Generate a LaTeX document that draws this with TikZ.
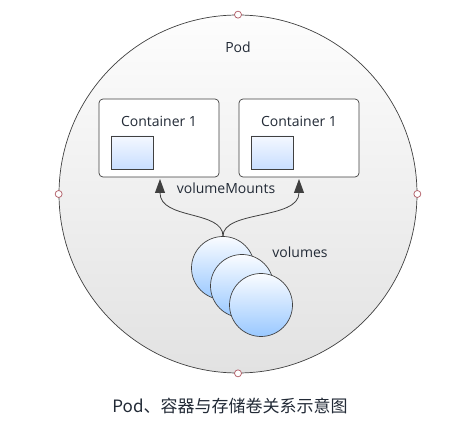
\documentclass[tikz,border=0pt]{standalone}
\usepackage{fontspec}
\setmainfont{Open Sans}
\newfontfamily\cjk{Noto Sans CJK SC}
\usetikzlibrary{arrows.meta}
\definecolor{txt}{HTML}{222A36}
\definecolor{edge}{HTML}{404040}
\definecolor{podtop}{HTML}{FDFDFD}
\definecolor{podbot}{HTML}{E2E2E2}
\definecolor{voltop}{HTML}{FAFCFF}
\definecolor{volbot}{HTML}{99C8FF}
\definecolor{sqtop}{HTML}{F4F8FF}
\definecolor{sqbot}{HTML}{C8DEFF}
\definecolor{handle}{HTML}{B05A64}
\tikzset{
  podcircle/.style={circle, draw=edge, line width=0.7pt, top color=podtop, bottom color=podbot, minimum size=358pt, inner sep=0pt},
  handledot/.style={circle, draw=handle, fill=white, line width=0.7pt, minimum size=7pt, inner sep=0pt},
  contbox/.style={draw=edge, line width=0.7pt, fill=white, rounded corners=4pt, minimum width=120pt, minimum height=78pt, inner sep=0pt},
  smallsq/.style={draw=edge, line width=0.7pt, top color=sqtop, bottom color=sqbot, minimum width=42pt, minimum height=33pt, inner sep=0pt},
  vol/.style={circle, draw=edge, line width=0.7pt, top color=voltop, bottom color=volbot, minimum size=63pt, inner sep=0pt},
  lbl/.style={text=txt, font=\fontsize{14}{16}\selectfont, inner sep=0pt},
  mount/.style={draw=edge, line width=0.8pt, -{Triangle[length=14pt,width=10pt]}},
}
\begin{document}
\begin{tikzpicture}[x=1pt,y=-1pt]
\useasboundingbox (0,0) rectangle (469,430);
\node[podcircle] (pod) at (238,194) {};
\node[handledot] (ht) at (pod.north) {};
\node[handledot] (hb) at (pod.south) {};
\node[handledot] (hl) at (pod.west) {};
\node[handledot] (hr) at (pod.east) {};
\node[lbl] (podl) at (238,47) {Pod};
\node[contbox] (c1) at (159,138) {};
\node[contbox] (c2) at (299,138) {};
\node[lbl] (c1t) at (159,121) {Container 1};
\node[lbl] (c2t) at (299,121) {Container 1};
\node[smallsq] (s1) at (132,152.5) {};
\node[smallsq] (s2) at (272,152.5) {};
\node[vol] (v1) at (223,268) {};
\node[vol] (v2) at (242,286) {};
\node[vol] (v3) at (261,305) {};
\node[lbl] (vl) at (300,252) {volumes};
\node[lbl] (ml) at (226,188) {volumeMounts};
\coordinate (t1) at (160,179);
\coordinate (t2) at (299,179);
\draw[mount] (v1.north) .. controls (223,210) and (160,220) .. (t1);
\draw[mount] (v1.north) .. controls (223,210) and (299,220) .. (t2);
\node[text=txt, font=\cjk\fontsize{17}{20}\selectfont, inner sep=0pt] (cap) at (230,406) {Pod、容器与存储卷关系示意图};
\end{tikzpicture}
\end{document}
